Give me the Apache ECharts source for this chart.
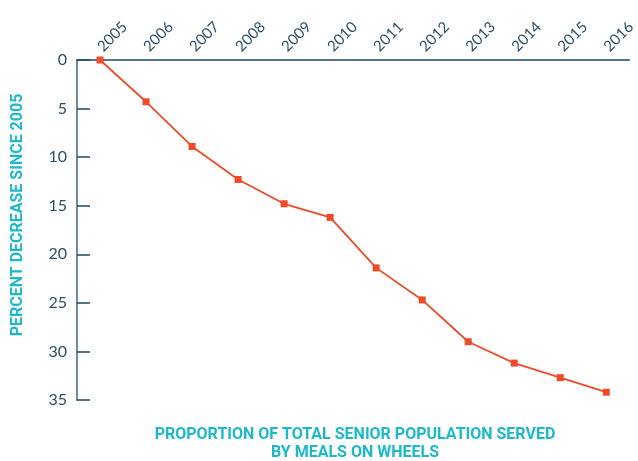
<!DOCTYPE html>
<html><head><meta charset="utf-8">
<script src="https://cdn.jsdelivr.net/npm/echarts@6/dist/echarts.min.js"></script>
<style>html,body{margin:0;padding:0;background:#fff}#c{width:638px;height:461px}</style>
</head><body><div id="c"></div>
<script>
const years = ['2005','2006','2007','2008','2009','2010','2011','2012','2013','2014','2015','2016'];
const percentDecrease = [0, 4.3, 8.9, 12.3, 14.8, 16.2, 21.4, 24.7, 29.0, 31.2, 32.7, 34.2];
const yTicks = {min: 0, max: 35, step: 5};
const yTitle = 'PERCENT DECREASE SINCE 2005';
const xTitleLines = ['PROPORTION OF TOTAL SENIOR POPULATION SERVED', 'BY MEALS ON WHEELS'];

const chart = echarts.init(document.getElementById('c'));
chart.setOption({
  animation: false,
  grid: {left: 77, right: 1, top: 60, bottom: 61},
  xAxis: {
    type: 'category', data: years, position: 'top', boundaryGap: true,
    axisLine: {lineStyle: {color: '#1e4a64', width: 1.5}},
    axisTick: {inside: true, length: 8, lineStyle: {color: '#1e4a64', width: 1.3}},
    axisLabel: {rotate: 45, color: '#2b4f67', fontSize: 15, fontFamily: 'Lato', margin: 11, hideOverlap: false},
    splitLine: {show: false}
  },
  yAxis: {
    type: 'value', inverse: true, min: yTicks.min, max: yTicks.max, interval: yTicks.step,
    axisLine: {show: true, lineStyle: {color: '#6e8c9c', width: 2}},
    axisTick: {show: true, inside: true, length: 13, lineStyle: {color: '#1e4a64', width: 1.5}},
    axisLabel: {color: '#2b4f67', fontSize: 16, fontFamily: 'Lato', margin: 10},
    splitLine: {show: false}
  },
  graphic: [
    {type: 'text', rotation: Math.PI/2, x: 18, y: 215,
      style: {text: yTitle, fill: '#1bb9c9', font: 'bold 16px "Roboto"', textAlign: 'center', textVerticalAlign: 'middle'}},
    {type: 'text', x: 355, y: 435,
      style: {text: xTitleLines[0], fill: '#1bb9c9', font: 'bold 16px "Roboto"', textAlign: 'center', textVerticalAlign: 'middle'}},
    {type: 'text', x: 355, y: 453,
      style: {text: xTitleLines[1], fill: '#1bb9c9', font: 'bold 16px "Roboto"', textAlign: 'center', textVerticalAlign: 'middle'}}
  ],
  series: [{
    type: 'line', data: percentDecrease,
    symbol: 'rect', symbolSize: 7,
    lineStyle: {color: '#ef4a2a', width: 1.8},
    itemStyle: {color: '#ef4a2a'}
  }]
});
</script></body></html>
